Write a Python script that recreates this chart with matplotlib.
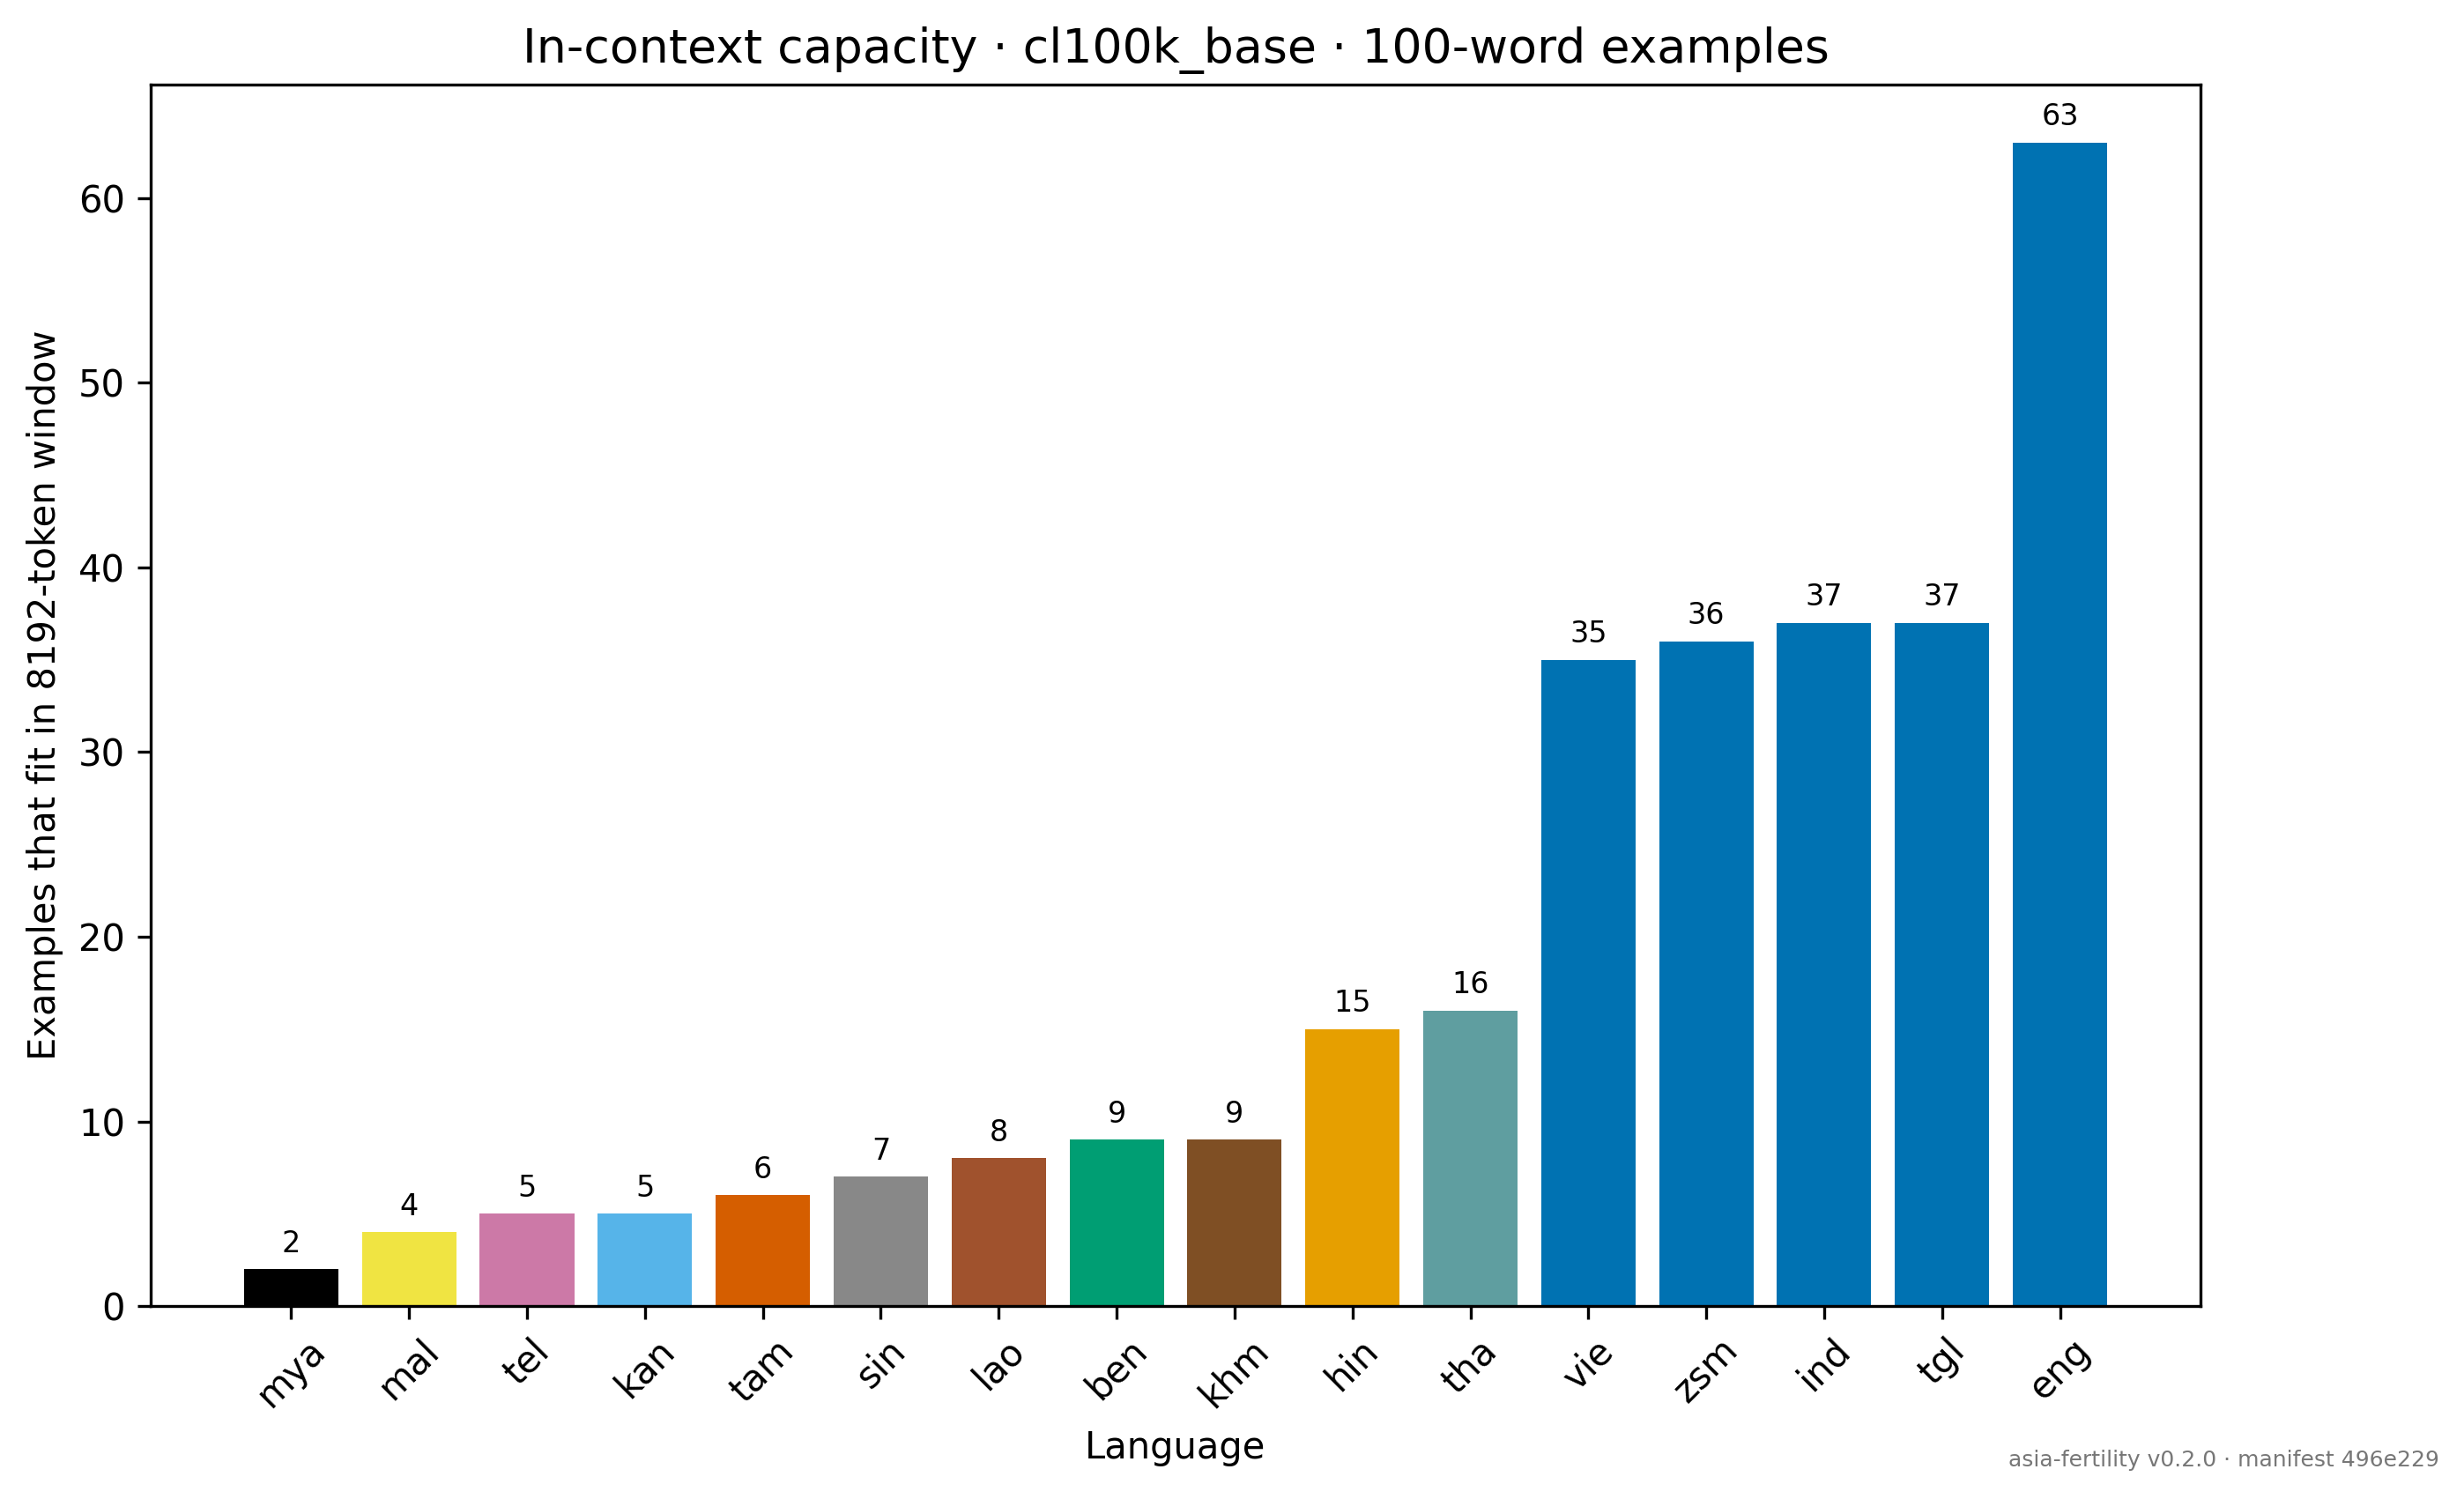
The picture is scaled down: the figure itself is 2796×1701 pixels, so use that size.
import numpy as np
import matplotlib
matplotlib.use("Agg")
import matplotlib.pyplot as plt

langs = ["mya", "mal", "tel", "kan", "tam", "sin", "lao", "ben", "khm",
         "hin", "tha", "vie", "zsm", "ind", "tgl", "eng"]
capacity = [2, 4, 5, 5, 6, 7, 8, 9, 9, 15, 16, 35, 36, 37, 37, 63]
colors = ["#000000", "#F0E442", "#CC79A7", "#56B4E9", "#D55E00", "#888888",
          "#A0522D", "#009E73", "#7F4F24", "#E69F00", "#5F9EA0",
          "#0072B2", "#0072B2", "#0072B2", "#0072B2", "#0072B2"]

fig, ax = plt.subplots(figsize=(9.32, 5.67), dpi=300)
fig.subplots_adjust(left=0.0612, right=0.893, top=0.9436, bottom=0.1287)

x = np.arange(len(langs))
bars = ax.bar(x, capacity, color=colors)
ax.bar_label(bars, labels=[str(v) for v in capacity], padding=3, fontsize=8)

ax.set_xticks(x)
ax.set_xticklabels(langs, rotation=45)
ax.set_xlabel("Language")
ax.set_ylabel("Examples that fit in 8192-token window")
ax.set_title("In-context capacity · cl100k_base · 100-word examples", fontsize=12.9)

fig.text(0.99, 0.019, "asia-fertility v0.2.0 · manifest 496e229",
         ha="right", va="bottom", fontsize=6, color="#777777")

fig.savefig("out.png", dpi=300)
